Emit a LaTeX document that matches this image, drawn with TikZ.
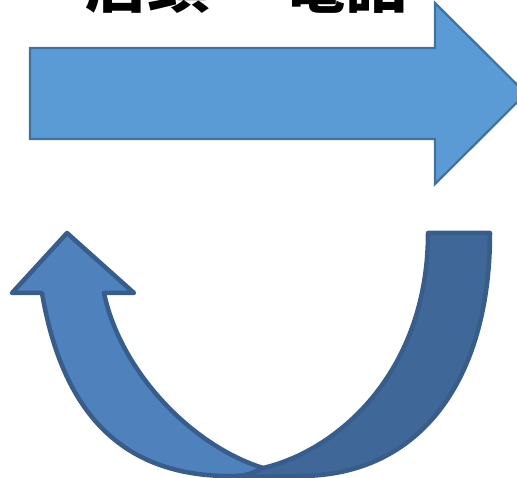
\documentclass[tikz,border=0pt]{standalone}
\usepackage{fontspec}
\newfontfamily\cjk{Noto Sans CJK JP}
\definecolor{flatfill}{HTML}{5B9BD5}
\definecolor{flatline}{HTML}{41719C}
\definecolor{frontfill}{HTML}{4F81BD}
\definecolor{backfill}{HTML}{3F6898}
\definecolor{turnline}{HTML}{385D8A}
\begin{document}
\begin{tikzpicture}[x=1pt, y=-1pt, line join=round, line cap=round,
	flatarrow/.style={fill=flatfill, draw=flatline, line width=2.2pt, line join=miter},
	turnfront/.style={fill=frontfill, draw=turnline, line width=4.5pt},
	turnback/.style={fill=backfill, draw=turnline, line width=4.5pt},
	word/.style={font=\cjk\bfseries\fontsize{62}{62}\selectfont, inner sep=0pt, anchor=south}]
	\useasboundingbox (0,0) rectangle (517,478);
	\def\ym{93.5}
	% straight arrow
	\draw[flatarrow] (30,48)--(435,48)--(435,3)--(526,\ym)--(435,184)--(435,139)--(30,139)--cycle;
	\node[word] (shop) at (147,14) {店頭};
	\node[word] (phone) at (345,14) {電話};
	% U-turn arrow, back half first
	\draw[turnback] (428,233)--(490,233) .. controls (490,380) and (420,476) .. (300,476)
		--(235,477)--(263,468) .. controls (340,450) and (428,370) .. (428,233)--cycle;
	\draw[turnfront] (263,468) .. controls (190,445) and (120,370) .. (104,293)
		--(134,293)--(67,233)--(12,293)--(42,293)
		.. controls (62,410) and (120,478) .. (235,476) .. controls (248,475) .. (263,468)--cycle;
\end{tikzpicture}
\end{document}
